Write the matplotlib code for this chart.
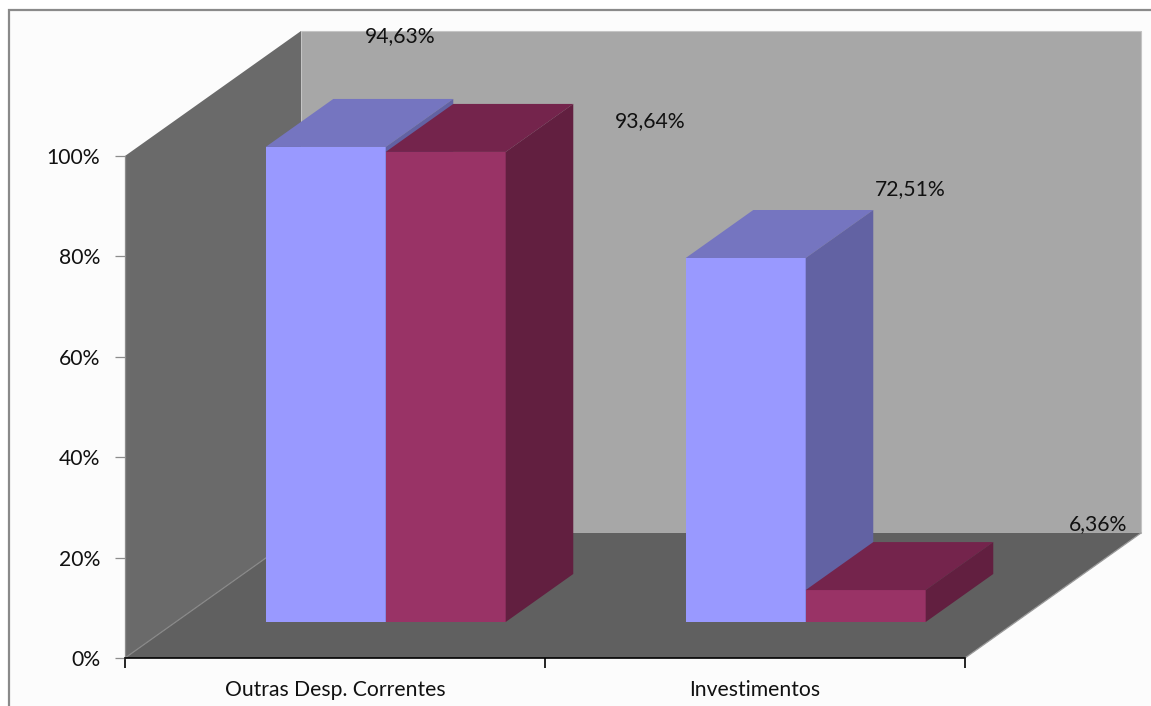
import matplotlib
matplotlib.use("Agg")
import matplotlib.pyplot as plt
from matplotlib.patches import Polygon, Rectangle
from matplotlib.ticker import FixedLocator, FixedFormatter

# ---- data ----
categories = ["Outras Desp. Correntes", "Investimentos"]
series_a = [94.63, 72.51]   # blue series
series_b = [93.64, 6.36]    # wine series
labels_a = ["94,63%", "72,51%"]
labels_b = ["93,64%", "6,36%"]
y_ticks = [0, 20, 40, 60, 80, 100]
y_ticklabels = ["0%", "20%", "40%", "60%", "80%", "100%"]

# ---- styling / geometry ----
W, H = 1151, 706
FS = 15.2
plt.rcParams['font.family'] = ['Lato', 'DejaVu Sans']
fig = plt.figure(figsize=(W / 100, H / 100), dpi=100)
fig.patch.set_facecolor('white')
fig.patches.append(Rectangle((9 / W, -0.05), 2.0, (H - 10) / H + 0.05, transform=fig.transFigure,
                             facecolor='#fcfcfc', edgecolor='#8a8a8a', linewidth=1.6, zorder=-5))

ax = fig.add_axes([125 / W, (H - 658) / H, 840 / W, 502 / H])
ax.set_zorder(1)
ax.set_xlim(0, 2)
ax.set_ylim(0, 100)
ax.set_facecolor('none')

# depth vector in data units (full depth)
DX = 176 / 420
DY = 125 / 5.02


def P(x, v, d):
    return (x + d * DX, v + d * DY)


def poly(pts, color, z, ec=None, lw=0.0):
    ax.add_patch(Polygon(pts, closed=True, facecolor=color, edgecolor=ec or color,
                         linewidth=lw, clip_on=False, zorder=z))


# walls
poly([P(0, 0, 1), P(2, 0, 1), P(2, 100, 1), P(0, 100, 1)], '#a7a7a7', 1, ec='#c4c4c4', lw=0.8)
poly([P(0, 0, 0), P(0, 0, 1), P(0, 100, 1), P(0, 100, 0)], '#6a6a6a', 1)
poly([P(0, 0, 0), P(2, 0, 0), P(2, 0, 1), P(0, 0, 1)], '#606060', 1)
ax.plot(*zip(P(0, 0, 0), P(0, 0, 1)), color='#888888', lw=0.9, clip_on=False, zorder=2)
ax.plot(*zip(P(2, 0, 0), P(2, 0, 1)), color='#9a9a9a', lw=0.9, clip_on=False, zorder=2)

# bars
bw = 120 / 420
d0, d1 = 0.288, 0.672
colors_a = ('#9999ff', '#7575c0', '#6262a3')
colors_b = ('#993366', '#74244c', '#621f40')


def bar(x0, v, cols, z):
    front, top, side = cols
    x1 = x0 + bw
    poly([P(x0, 0, d0), P(x1, 0, d0), P(x1, v, d0), P(x0, v, d0)], front, z)
    poly([P(x0, v, d0), P(x1, v, d0), P(x1, v, d1), P(x0, v, d1)], top, z)
    poly([P(x1, 0, d0), P(x1, 0, d1), P(x1, v, d1), P(x1, v, d0)], side, z)


for i in range(len(categories)):
    c = i + 0.5
    bar(c - bw, series_a[i], colors_a, 3 + 2 * i)
    bar(c, series_b[i], colors_b, 4 + 2 * i)

# value labels (positions in data units)
label_pos_a = [(0.655, 123.9), (1.869, 93.4)]
label_pos_b = [(1.25, 107.0), (2.317, 26.7)]
for (x, y), t in zip(label_pos_a + label_pos_b, labels_a + labels_b):
    ax.text(x, y, t, ha='center', va='center', fontsize=FS, color='#111111', zorder=10, clip_on=False)

# axes
for s in ['top', 'right']:
    ax.spines[s].set_visible(False)
ax.spines['left'].set_color('#8c8c8c')
ax.spines['left'].set_linewidth(0.9)
ax.spines['left'].set_zorder(2)
ax.spines['bottom'].set_color('black')
ax.spines['bottom'].set_linewidth(1.2)
ax.spines['bottom'].set_zorder(12)

ax.yaxis.set_major_locator(FixedLocator(y_ticks))
ax.yaxis.set_major_formatter(FixedFormatter(y_ticklabels))
ax.tick_params(axis='y', length=7, width=0.9, color='#8c8c8c', labelsize=FS, pad=11, labelcolor='#111111')

ax.xaxis.set_major_locator(FixedLocator([0, 1, 2]))
ax.xaxis.set_major_formatter(FixedFormatter(['', '', '']))
ax.xaxis.set_minor_locator(FixedLocator([0.5, 1.5]))
ax.xaxis.set_minor_formatter(FixedFormatter(categories))
ax.tick_params(axis='x', which='minor', length=0, labelsize=FS, pad=16, labelcolor='#111111')
ax.tick_params(axis='x', which='major', length=7, width=1.2, color='black', direction='out')

fig.savefig('out.png', dpi=100)
